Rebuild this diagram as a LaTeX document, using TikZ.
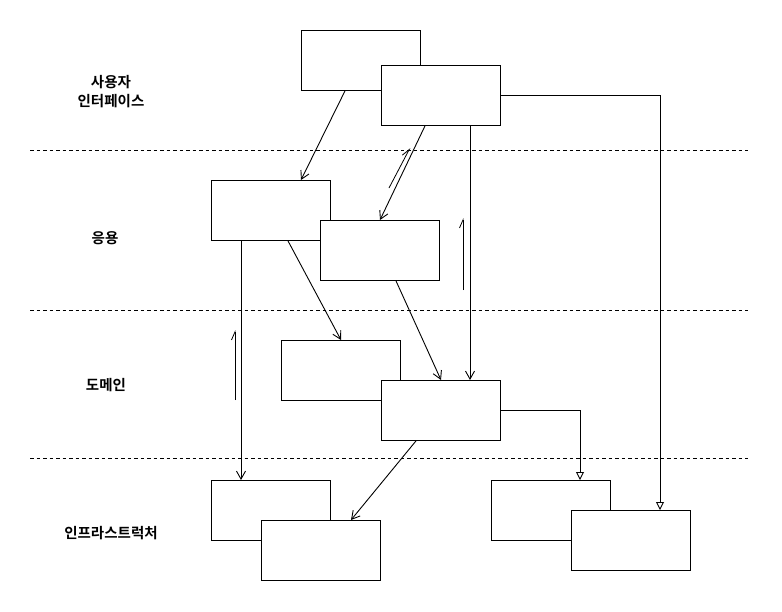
\documentclass[tikz,border=0pt]{standalone}
\usepackage{fontspec}
\newfontfamily\kr{Noto Sans CJK KR}[BoldFont={* Bold}]
\usetikzlibrary{arrows.meta}
\begin{document}
\begin{tikzpicture}[x=1pt,y=-1pt,line width=0.9pt,
  box/.style={draw,fill=white,minimum width=119pt,minimum height=60pt,inner sep=0pt,anchor=north west},
  layer/.style={font=\kr\bfseries\fontsize{14.5}{19}\selectfont,align=center},
  sep/.style={dashed,dash pattern=on 3.5pt off 3pt,line width=0.8pt},
  dep/.style={-{Straight Barb[length=8pt,width=9pt]}},
  gen/.style={-{Triangle[open,length=8pt,width=8pt]}},
  dirmark/.style={line width=0.8pt,-{Straight Barb[harpoon,length=8pt,width=7pt]}}]
\useasboundingbox (0,0) rectangle (782,611);
% layer separators
\coordinate (s1a) at (30,150); \coordinate (s1b) at (748,150);
\coordinate (s2a) at (30,310); \coordinate (s2b) at (748,310);
\coordinate (s3a) at (30,458); \coordinate (s3b) at (748,458);
\draw[sep] (s1a) -- (s1b);
\draw[sep] (s2a) -- (s2b);
\draw[sep] (s3a) -- (s3b);
% labels
\node[layer] (lui) at (111,92) {사용자\\인터페이스};
\node[layer] (lapp) at (105,238) {응용};
\node[layer] (ldom) at (106,385) {도메인};
\node[layer] (linf) at (111,533) {인프라스트럭처};
% boxes
\node[box] (A) at (301,30) {};
\node[box] (B) at (381,65) {};
\node[box] (C) at (211,180) {};
\node[box] (D) at (320,220) {};
\node[box] (E) at (281,340) {};
\node[box] (F) at (381,380) {};
\node[box] (G) at (211,480) {};
\node[box] (H) at (261,520) {};
\node[box] (I) at (491,480) {};
\node[box] (J) at (571,510) {};
% connectors
\draw[dep] ([xshift=44pt]A.south west) -- ([xshift=90pt]C.north west);
\draw[dep] ([xshift=44pt]B.south west) -- ([xshift=60pt]D.north west);
\draw[dep] ([xshift=89pt]B.south west) -- ([xshift=89pt]F.north west);
\draw[gen] ([yshift=-30pt]B.north east) -| ([xshift=89pt]J.north west);
\draw[dep] ([xshift=30pt]C.south west) -- ([xshift=30pt]G.north west);
\draw[dep] ([xshift=77pt]C.south west) -- ([xshift=60pt]E.north west);
\draw[dep] ([xshift=76pt]D.south west) -- ([xshift=60pt]F.north west);
\draw[dep] ([xshift=35pt]F.south west) -- ([xshift=90pt]H.north west);
\draw[gen] ([yshift=-30pt]F.north east) -| ([xshift=89pt]I.north west);
% direction marks
\coordinate (m1a) at (389,188); \coordinate (m1b) at (410,148);
\coordinate (m2a) at (463,290); \coordinate (m2b) at (463,218);
\coordinate (m3a) at (235,400); \coordinate (m3b) at (235,330);
\draw[dirmark] (m1a) -- (m1b);
\draw[dirmark] (m2a) -- (m2b);
\draw[dirmark] (m3a) -- (m3b);
\end{tikzpicture}
\end{document}
